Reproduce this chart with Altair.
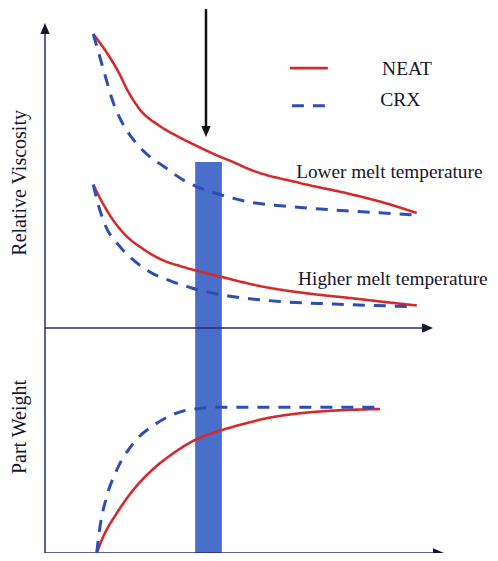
import altair as alt
import pandas as pd

# ---------------- data read off the schematic ----------------
# time (arbitrary units): 0 = origin of the time axis, 100 = arrow tip
# top panel: relative viscosity (arbitrary units, 0 = time axis)
lowT_neat_t = [12.48, 16.36, 18.94, 21.52, 24.99, 29.28, 34.44, 39.61, 43.93, 48.58, 52.97, 65.89, 78.81, 87.86, 96.05]
lowT_neat_v = [99.66, 92.54, 86.88, 80.10, 73.32, 68.81, 64.85, 61.46, 58.81, 56.27, 53.73, 49.15, 45.42, 42.37, 38.98]

lowT_crx_t = [12.48, 13.77, 15.50, 17.24, 19.82, 23.26, 27.57, 30.16, 35.74, 40.05, 44.37, 52.12, 61.58, 74.50, 87.42, 95.17]
lowT_crx_v = [99.66, 93.66, 85.76, 77.86, 69.93, 63.15, 57.53, 55.25, 50.17, 47.46, 45.59, 42.88, 41.36, 40.00, 38.98, 38.31]

highT_neat_t = [12.48, 14.65, 17.24, 20.67, 24.99, 30.16, 35.32, 40.05, 45.66, 56.41, 70.21, 78.81, 87.86, 96.05]
highT_neat_v = [48.58, 42.95, 37.29, 31.63, 27.12, 23.15, 20.85, 19.15, 17.29, 14.00, 11.36, 10.17, 8.81, 7.63]

highT_crx_t = [12.48, 13.77, 15.50, 18.94, 23.26, 27.57, 32.74, 37.91, 44.37, 48.66, 60.72, 74.50, 95.17]
highT_crx_v = [48.58, 41.80, 35.02, 28.24, 22.61, 18.64, 15.83, 13.56, 11.53, 10.61, 8.98, 8.14, 7.22]

# bottom panel: part weight (arbitrary units, 100 = plateau)
pw_neat_t = [13.36, 15.06, 18.53, 22.82, 27.13, 33.15, 38.76, 44.37, 48.66, 57.29, 65.89, 74.50, 86.56]
pw_neat_w = [0.0, 11.2, 27.2, 43.2, 55.5, 68.3, 77.4, 83.1, 86.5, 92.3, 95.7, 97.5, 98.6]

pw_crx_t = [13.36, 14.21, 15.94, 18.53, 22.82, 28.86, 35.74, 40.05, 44.37, 85.71]
pw_crx_w = [0.0, 18.0, 38.6, 56.8, 75.1, 88.8, 97.3, 99.0, 99.8, 99.8]

series_names = ["NEAT", "CRX"]
window_t = [38.8, 45.7]      # processing window (shaded band)
window_top_v = 56.3

# ---------------- styling ----------------
RED = "#d42a2c"
BLUE = "#2d4fb5"
BAND = "#4a6fcb"
INK = "#15152e"
AXIS = "#2a2a6e"
FONT = "Liberation Serif"

X = alt.Scale(domain=[-9.561, 114.987], nice=False, zero=False)
YT = alt.Scale(domain=[-76.271, 108.475], nice=False, zero=False)
YB = alt.Scale(domain=[0, 373.288], nice=False, zero=False)

color = alt.Color("series:N", scale=alt.Scale(domain=series_names, range=[RED, BLUE]), legend=None)
dash = alt.StrokeDash("series:N", scale=alt.Scale(domain=series_names, range=[[1, 0], [12, 9]]), legend=None)
sw = alt.StrokeWidth("series:N", scale=alt.Scale(domain=series_names, range=[2.6, 3.0]), legend=None)


def curve_rows(name, series, ts, vs):
    return [{"curve": name, "series": series, "t": t, "v": v} for t, v in zip(ts, vs)]


top = pd.DataFrame(
    curve_rows("low_neat", "NEAT", lowT_neat_t, lowT_neat_v)
    + curve_rows("low_crx", "CRX", lowT_crx_t, lowT_crx_v)
    + curve_rows("high_neat", "NEAT", highT_neat_t, highT_neat_v)
    + curve_rows("high_crx", "CRX", highT_crx_t, highT_crx_v)
)
bot = pd.DataFrame(
    curve_rows("pw_neat", "NEAT", pw_neat_t, pw_neat_w)
    + curve_rows("pw_crx", "CRX", pw_crx_t, pw_crx_w)
)

xq = lambda f: alt.X(f, type="quantitative", scale=X, axis=None)
ytq = lambda f: alt.Y(f, type="quantitative", scale=YT, axis=None)
ybq = lambda f: alt.Y(f, type="quantitative", scale=YB, axis=None)

# shaded processing window
band = alt.Chart(pd.DataFrame({"t0": [window_t[0]], "t1": [window_t[1]],
                               "top": [window_top_v], "bottom": [YT.domain[0]]})).mark_rect(
    color=BAND, opacity=1).encode(x=xq("t0"), x2="t1", y=ytq("top"), y2="bottom")

top_lines = alt.Chart(top).mark_line(interpolate="monotone", strokeCap="butt").encode(
    x=xq("t"), y=ytq("v"), color=color, strokeDash=dash, strokeWidth=sw, detail="curve:N")
bot_lines = alt.Chart(bot).mark_line(interpolate="monotone", strokeCap="butt").encode(
    x=xq("t"), y=ybq("v"), color=color, strokeDash=dash, strokeWidth=sw, detail="curve:N")

# axes drawn as arrows
vaxis = alt.Chart(pd.DataFrame({"t": [0], "a": [100.0], "b": [-77.6]})).mark_rule(
    color=AXIS, strokeWidth=1.5).encode(x=xq("t"), y=ytq("a"), y2="b")
top_axis = alt.Chart(pd.DataFrame({"a": [0], "b": [98.0], "v": [0]})).mark_rule(
    color=AXIS, strokeWidth=1.5).encode(x=xq("a"), x2="b", y=ytq("v"))
bot_axis = alt.Chart(pd.DataFrame({"a": [0], "b": [101.0], "v": [0]})).mark_rule(
    color=AXIS, strokeWidth=1.5).encode(x=xq("a"), x2="b", y=ybq("v"))

UP = "M0,-1L-0.85,1L0.85,1Z"
RIGHT = "M1,0L-1,-0.85L-1,0.85Z"
DOWN = "M0,1L-0.85,-1L0.85,-1Z"
head = dict(filled=True, size=121, color=INK, opacity=1, strokeWidth=0)

up_head = alt.Chart(pd.DataFrame({"t": [0], "v": [101.5]})).mark_point(shape=UP, **head).encode(
    x=xq("t"), y=ytq("v"))
top_head = alt.Chart(pd.DataFrame({"t": [98.84], "v": [0]})).mark_point(shape=RIGHT, **head).encode(
    x=xq("t"), y=ytq("v"))
bot_head = alt.Chart(pd.DataFrame({"t": [101.68], "v": [0]})).mark_point(shape=RIGHT, **head).encode(
    x=xq("t"), y=ybq("v"))

# black pointer arrow to the processing window
pointer = alt.Chart(pd.DataFrame({"t": [41.6], "a": [108.1], "b": [66.8]})).mark_rule(
    color="#111111", strokeWidth=2.5).encode(x=xq("t"), y=ytq("a"), y2="b")
pointer_head = alt.Chart(pd.DataFrame({"t": [41.6], "v": [66.6]})).mark_point(
    shape=DOWN, filled=True, size=121, color="#111111", opacity=1, strokeWidth=0).encode(
    x=xq("t"), y=ytq("v"))

# manual legend
leg = pd.DataFrame({"series": series_names, "a": [63.3, 63.8], "b": [73.1, 72.6], "v": [88.1, 75.3]})
leg_lines = alt.Chart(leg).mark_rule(strokeCap="butt").encode(
    x=xq("a"), x2="b", y=ytq("v"), color=color, strokeDash=dash, strokeWidth=sw)
leg_text = alt.Chart(pd.DataFrame({"label": series_names, "t": [87.1, 86.6], "v": [85.8, 75.4]})).mark_text(
    align="left", baseline="alphabetic", font=FONT, fontSize=19.5, color=INK).encode(
    x=xq("t"), y=ytq("v"), text="label:N")

curve_labels = alt.Chart(pd.DataFrame({
    "label": ["Lower melt temperature", "Higher melt temperature"],
    "t": [64.9, 65.4], "v": [50.8, 14.6]})).mark_text(
    align="left", baseline="alphabetic", font=FONT, fontSize=19.3, color=INK).encode(
    x=xq("t"), y=ytq("v"), text="label:N")

vis_title = alt.Chart(pd.DataFrame({"label": ["Relative Viscosity"], "t": [-6.46], "v": [49.2]})).mark_text(
    angle=270, align="center", baseline="middle", font=FONT, fontSize=20, color=INK).encode(
    x=xq("t"), y=ytq("v"), text="label:N")
pw_title = alt.Chart(pd.DataFrame({"label": ["Part Weight"], "t": [-6.46], "v": [86.3]})).mark_text(
    angle=270, align="center", baseline="middle", font=FONT, fontSize=20, color=INK).encode(
    x=xq("t"), y=ybq("v"), text="label:N")

chart = alt.layer(
    band, vaxis, top_axis, bot_axis, up_head, top_head, bot_head,
    top_lines, bot_lines, pointer, pointer_head,
    leg_lines, leg_text, curve_labels, vis_title, pw_title,
).resolve_scale(y="independent").properties(
    width=482, height=545, padding=0, autosize=alt.AutoSizeParams(type="none"), background="white"
).configure_view(stroke=None)

chart.save("out.html", embed_options={"renderer": "svg", "actions": False})
